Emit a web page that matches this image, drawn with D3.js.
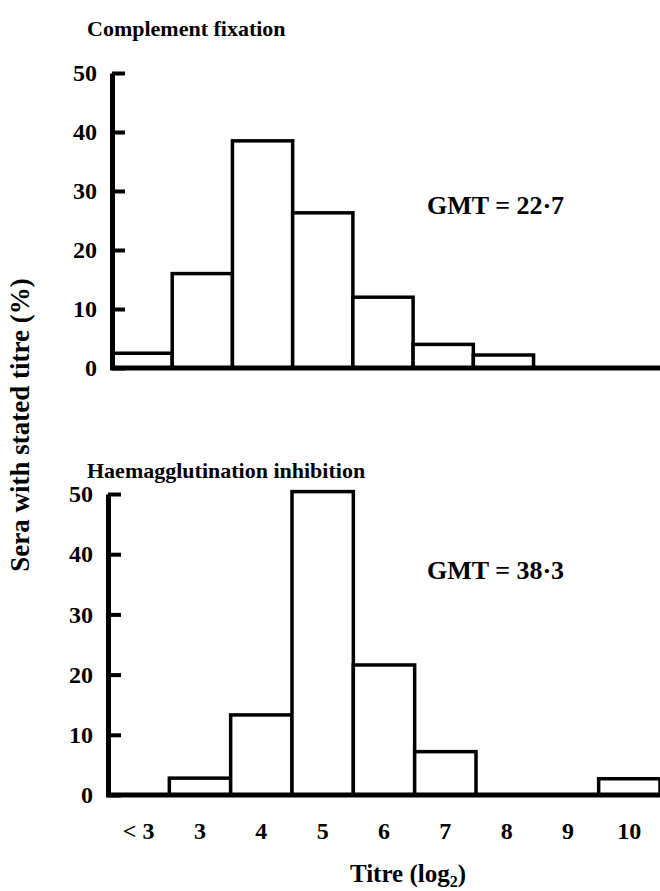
<!DOCTYPE html>
<meta charset="utf-8">
<style>
    body {
        margin: 0;
        background: #fff;
    }

    svg {
        font-family: "Liberation Serif", "DejaVu Serif", serif;
        font-weight: bold;
    }

    .axis path {
        fill: none;
        stroke: black;
        stroke-width: 5;
    }

    .axis line {
        stroke: black;
        stroke-width: 4;
    }

    .axis text {
        font-family: "Liberation Serif", "DejaVu Serif", serif;
        font-weight: bold;
        font-size: 24px;
        fill: black;
    }

    .bar {
        fill: white;
        stroke: black;
        stroke-width: 3.5;
    }
</style>
<body>
<script src="https://d3js.org/d3.v7.min.js"></script>
<script>
    const width = 660;
    const height = 891;

    // titre classes (log2)
    const categories = ['< 3', '3', '4', '5', '6', '7', '8', '9', '10'];
    // % of sera, complement fixation
    const cfValues = [2.5, 16, 38.5, 26.3, 12, 4, 2.2, 0, 0];
    // % of sera, haemagglutination inhibition
    const hiValues = [0, 2.8, 13.3, 50.4, 21.6, 7.2, 0, 0, 2.7];
    const yTicks = [0, 10, 20, 30, 40, 50];

    const panels = [
        {title: 'Complement fixation', gmt: 'GMT = 22·7', values: cfValues,
         x0: 112, x1: 654, y0: 368, y1: 73, titleY: 36, gmtY: 214},
        {title: 'Haemagglutination inhibition', gmt: 'GMT = 38·3', values: hiValues,
         x0: 108, x1: 660, y0: 795, y1: 494, titleY: 478, gmtY: 579, showX: true}
    ];

    const svg = d3.select('body')
        .append('svg')
        .attr('width', width)
        .attr('height', height);

    panels.forEach(p => {
        const g = svg.append('g');

        const x = d3.scaleBand()
            .domain(categories)
            .range([p.x0, p.x1])
            .padding(0);

        const y = d3.scaleLinear()
            .domain([0, 50])
            .range([p.y0, p.y1]);

        // title
        g.append('text')
            .attr('x', 87)
            .attr('y', p.titleY)
            .style('font-size', '22px')
            .text(p.title);

        // bars
        g.selectAll('.bar')
            .data(p.values.map((v, i) => ({cat: categories[i], v: v})).filter(d => d.v > 0))
            .enter().append('rect')
            .attr('class', 'bar')
            .attr('x', d => x(d.cat))
            .attr('width', x.bandwidth())
            .attr('y', d => y(d.v))
            .attr('height', d => y(0) - y(d.v));

        // baseline
        g.append('line')
            .attr('x1', p.x0 - 2)
            .attr('x2', width)
            .attr('y1', y(0))
            .attr('y2', y(0))
            .style('stroke', 'black')
            .style('stroke-width', 5);

        // y axis, ticks pointing inward
        g.append('g')
            .attr('class', 'axis')
            .attr('transform', 'translate(' + p.x0 + ',0)')
            .call(d3.axisLeft(y)
                .tickValues(yTicks)
                .tickSizeInner(-13)
                .tickSizeOuter(0)
                .tickPadding(15));

        // GMT annotation
        g.append('text')
            .attr('x', 427)
            .attr('y', p.gmtY)
            .style('font-size', '26px')
            .text(p.gmt);

        if (p.showX) {
            const xAxis = g.append('g')
                .attr('class', 'axis')
                .attr('transform', 'translate(0,' + (y(0) + 27) + ')')
                .call(d3.axisBottom(x).tickSize(0).tickPadding(0));
            xAxis.select('.domain').remove();
            xAxis.selectAll('text').attr('dy', '0.71em');

            const xt = g.append('text')
                .attr('x', 408)
                .attr('y', 882)
                .attr('text-anchor', 'middle')
                .style('font-size', '25px');
            xt.append('tspan').text('Titre (log');
            xt.append('tspan').attr('dy', 5).style('font-size', '16px').text('2');
            xt.append('tspan').attr('dy', -5).text(')');
        }
    });

    // shared y-axis label
    svg.append('text')
        .attr('transform', 'translate(29,425) rotate(-90)')
        .attr('text-anchor', 'middle')
        .style('font-size', '27px')
        .text('Sera with stated titre (%)');
</script>
</body>
</html>
